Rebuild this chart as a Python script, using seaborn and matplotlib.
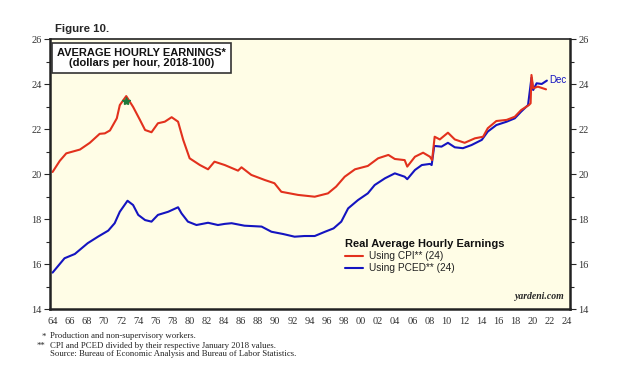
import numpy as np
import pandas as pd
import matplotlib
matplotlib.use("Agg")
import matplotlib.pyplot as plt
import seaborn as sns
from matplotlib.ticker import MultipleLocator, FixedLocator

# Real average hourly earnings, deflated by CPI (red)
cpi_years = [1964.0, 1964.85, 1965.6, 1967.2, 1968.35, 1969.5, 1970.1, 1970.7, 1971.5, 1971.85,
             1972.6, 1973.4, 1974.2, 1974.8, 1975.55, 1976.3, 1977.1, 1977.9, 1978.65, 1979.25,
             1980.0, 1981.2, 1982.15, 1982.9, 1984.1, 1985.65, 1986.05, 1987.2, 1988.8, 1989.9,
             1990.7, 1992.65, 1994.6, 1996.15, 1997.1, 1998.1, 1999.3, 2000.8, 2002.0, 2003.2,
             2003.95, 2005.1, 2005.4, 2006.3, 2007.25, 2008.05, 2008.3, 2008.6, 2009.2, 2010.15,
             2010.95, 2012.1, 2013.3, 2014.25, 2014.8, 2015.8, 2017.0, 2017.95, 2018.7, 2019.6,
             2019.8, 2019.9, 2020.1, 2020.65, 2021.6]
cpi_vals = [20.1, 20.6, 20.93, 21.1, 21.4, 21.8, 21.82, 21.95, 22.49, 23.08,
            23.48, 23.0, 22.42, 21.97, 21.87, 22.27, 22.34, 22.54, 22.34, 21.53,
            20.71, 20.41, 20.22, 20.56, 20.41, 20.16, 20.31, 19.97, 19.74, 19.6,
            19.22, 19.08, 19.0, 19.15, 19.45, 19.89, 20.22, 20.37, 20.71, 20.86,
            20.68, 20.63, 20.34, 20.78, 20.96, 20.78, 20.63, 21.67, 21.55, 21.85,
            21.55, 21.4, 21.6, 21.67, 22.05, 22.37, 22.42, 22.56, 22.86, 23.08,
            23.16, 24.42, 23.83, 23.9, 23.78]

# Real average hourly earnings, deflated by PCED (blue)
pced_years = [1964.0, 1965.4, 1966.6, 1968.1, 1969.3, 1970.5, 1971.25, 1971.85, 1972.75, 1973.4,
              1974.0, 1974.8, 1975.55, 1976.3, 1977.5, 1978.65, 1979.05, 1979.8, 1980.8, 1982.15,
              1983.3, 1984.1, 1984.9, 1986.4, 1988.4, 1989.55, 1990.9, 1992.25, 1993.4, 1994.6,
              1995.8, 1996.8, 1997.7, 1998.5, 1999.65, 2000.8, 2001.6, 2002.8, 2003.95, 2005.1,
              2005.4, 2006.3, 2007.1, 2008.05, 2008.25, 2008.55, 2009.4, 2010.15, 2010.95, 2011.9,
              2012.9, 2014.1, 2014.8, 2015.8, 2017.0, 2017.95, 2018.7, 2019.5, 2019.9, 2020.1,
              2020.5, 2021.1, 2021.7]
pced_vals = [15.62, 16.26, 16.45, 16.93, 17.22, 17.49, 17.82, 18.33, 18.82, 18.63,
             18.19, 17.96, 17.89, 18.19, 18.33, 18.53, 18.26, 17.89, 17.74, 17.84,
             17.74, 17.79, 17.82, 17.71, 17.67, 17.44, 17.34, 17.22, 17.25, 17.25,
             17.44, 17.59, 17.89, 18.48, 18.85, 19.15, 19.52, 19.82, 20.04, 19.89,
             19.78, 20.19, 20.41, 20.46, 20.41, 21.26, 21.23, 21.4, 21.2, 21.16,
             21.3, 21.53, 21.9, 22.19, 22.34, 22.49, 22.79, 23.08, 24.3, 23.75,
             24.05, 24.02, 24.17]

x_ticks = list(range(1964, 2025, 2))
y_ticks = [14, 16, 18, 20, 22, 24, 26]

red = "#e2311d"
blue = "#1414c0"

df = pd.concat([
    pd.DataFrame({"year": cpi_years, "value": cpi_vals, "series": "Using CPI** (24)"}),
    pd.DataFrame({"year": pced_years, "value": pced_vals, "series": "Using PCED** (24)"}),
])

sns.set_style("white")
plt.rcParams["font.family"] = ["Liberation Sans", "DejaVu Sans"]

fig = plt.figure(figsize=(6.24, 3.65), dpi=100)
ax = fig.add_axes([0.0801, 0.1534, 0.8334, 0.7384])
ax.set_facecolor("#fffde6")

sns.lineplot(data=df, x="year", y="value", hue="series",
             palette={"Using CPI** (24)": red, "Using PCED** (24)": blue},
             hue_order=["Using PCED** (24)", "Using CPI** (24)"],
             linewidth=1.5, ax=ax, legend=False, estimator=None, sort=False)

# star at the 1972 peak
ax.plot([1972.55], [23.25], marker="*", color="#1e7a3c", markersize=6, linestyle="None")

ax.set_xlim(1963.7, 2024.4)
ax.set_ylim(14, 26)
ax.set_xlabel("")
ax.set_ylabel("")

serif = "Liberation Serif"
ax.xaxis.set_major_locator(FixedLocator(x_ticks))
ax.xaxis.set_minor_locator(MultipleLocator(1))
ax.set_xticklabels(["%02d" % (y % 100) for y in x_ticks], fontfamily=serif, fontsize=7.5, color="#333333")
ax.yaxis.set_major_locator(FixedLocator(y_ticks))
ax.yaxis.set_minor_locator(MultipleLocator(1))
ax.set_yticklabels([str(v) for v in y_ticks], fontfamily=serif, fontsize=7.5, color="#333333")
ax.tick_params(axis="x", which="major", direction="out", length=4, width=1.2, pad=2)
ax.tick_params(axis="x", which="minor", direction="out", length=3, width=1.0)
ax.tick_params(axis="y", which="both", direction="out", length=4, width=0.8,
               left=True, right=True, labelleft=True, labelright=True, pad=2)
ax.tick_params(axis="y", which="minor", length=3)

for s in ["left", "right", "bottom"]:
    ax.spines[s].set_linewidth(1.8)
    ax.spines[s].set_color("#222222")
ax.spines["top"].set_linewidth(1.2)
ax.spines["top"].set_color("#222222")

# title box
ax.text(0.176, 0.97, "AVERAGE HOURLY EARNINGS*\n(dollars per hour, 2018-100)",
        transform=ax.transAxes, ha="center", va="top", fontsize=8.0, fontweight="bold",
        linespacing=1.05, color="#111111",
        bbox=dict(boxstyle="square,pad=0.45", facecolor="white", edgecolor="#333333", linewidth=1.2))

fig.text(0.088, 1 - 29 / 365, "Figure 10.", fontsize=8.2, fontweight="bold", ha="left", va="center")

# legend
ax.text(0.567, 0.24, "Real Average Hourly Earnings", transform=ax.transAxes,
        fontsize=8.0, fontweight="bold", ha="left", va="center", color="#111111")
ax.plot([0.567, 0.602], [0.195, 0.195], transform=ax.transAxes, color=red, linewidth=1.5)
ax.plot([0.567, 0.602], [0.154, 0.154], transform=ax.transAxes, color=blue, linewidth=1.5)
ax.text(0.613, 0.195, "Using CPI** (24)", transform=ax.transAxes, fontsize=7.3,
        ha="left", va="center", color="#222222")
ax.text(0.613, 0.154, "Using PCED** (24)", transform=ax.transAxes, fontsize=7.3,
        ha="left", va="center", color="#222222")

ax.text(0.99, 0.03, "yardeni.com", transform=ax.transAxes, fontsize=7,
        fontfamily=serif, fontstyle="italic", fontweight="bold", ha="right", va="bottom")

ax.text(2022.0, 24.2, "Dec", fontsize=7.0, color=blue, ha="left", va="center")

# footnotes
fn = dict(fontfamily=serif, fontsize=6.3, color="#222222", va="center")
fig.text(0.066, 1 - 336.5 / 365, "*", ha="left", **fn)
fig.text(0.08, 1 - 336.5 / 365, "Production and non-supervisory workers.", ha="left", **fn)
fig.text(0.058, 1 - 345.5 / 365, "**", ha="left", **fn)
fig.text(0.08, 1 - 345.5 / 365, "CPI and PCED divided by their respective January 2018 values.", ha="left", **fn)
fig.text(0.08, 1 - 354.5 / 365, "Source: Bureau of Economic Analysis and Bureau of Labor Statistics.", ha="left", **fn)

fig.savefig("out.png", dpi=100, facecolor="white")
